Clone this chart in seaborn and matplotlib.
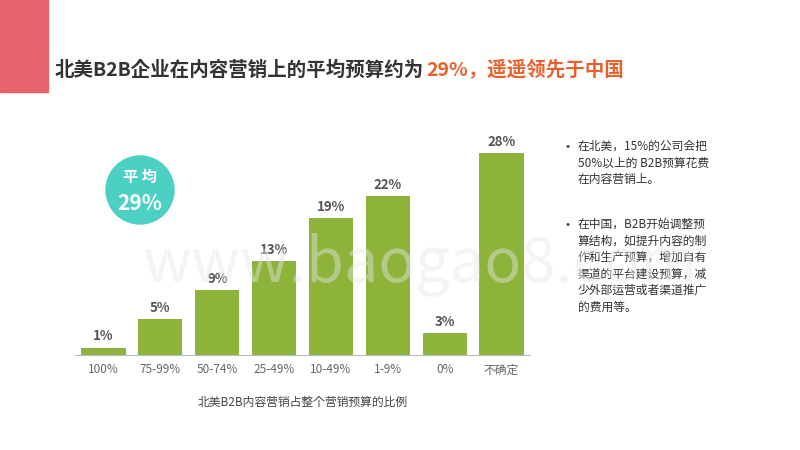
import matplotlib
matplotlib.use("Agg")
import matplotlib.pyplot as plt
from matplotlib import font_manager
import seaborn as sns
from matplotlib.patches import Rectangle, Ellipse

cjk = [f for f in font_manager.findSystemFonts() if "CJK" in f or "cjk" in f.lower()]
for f in cjk:
    try:
        font_manager.fontManager.addfont(f)
    except Exception:
        pass
names = {font_manager.FontProperties(fname=f).get_name() for f in cjk}
family = [n for n in ["Noto Sans CJK SC", "Noto Sans CJK JP"] if n in names] + sorted(names) + ["DejaVu Sans"]
plt.rcParams["font.family"] = family

categories = ["100%", "75-99%", "50-74%", "25-49%", "10-49%", "1-9%", "0%", "不确定"]
shares = [1, 5, 9, 13, 19, 22, 3, 28]

fig = plt.figure(figsize=(8, 4.5), dpi=100)
fig.patch.set_facecolor("white")

fig.patches.append(Rectangle((0, 1 - 92 / 450), 48 / 800, 92 / 450, transform=fig.transFigure,
                             color="#e8636b", zorder=0))
fig.text(55 / 800, 1 - 70 / 450, "北美B2B企业在内容营销上的平均预算约为", fontsize=14,
         fontweight="bold", color="#333333", va="center")
fig.text(426 / 800, 1 - 70 / 450, "29%，遥遥领先于中国", fontsize=14,
         fontweight="bold", color="#e8612c", va="center")

ax = fig.add_axes([75 / 800, 95 / 450, 455 / 800, 225 / 450])
sns.barplot(x=categories, y=shares, ax=ax, color="#8db33a", width=0.78, saturation=1)
ax.set_ylim(0, 31.2)
ax.set_yticks([])
for s in ["top", "right", "left"]:
    ax.spines[s].set_visible(False)
ax.spines["bottom"].set_color("#bbbbbb")
ax.tick_params(axis="x", length=0, labelsize=8.5, colors="#666666", pad=6)
for i, v in enumerate(shares):
    ax.text(i, v + 0.6, f"{v}%", ha="center", va="bottom", fontsize=9.5,
            fontweight="bold", color="#555555")
ax.set_xlabel("北美B2B内容营销占整个营销预算的比例", fontsize=8.5, color="#444444", labelpad=14)

fig.patches.append(Ellipse((140 / 800, 1 - 190 / 450), 68 / 800, 68 / 450, transform=fig.transFigure,
                           color="#4dd0c4", zorder=3))
fig.text(140 / 800, 1 - 177 / 450, "平 均", ha="center", va="center", fontsize=11,
         fontweight="bold", color="white", zorder=4)
fig.text(140 / 800, 1 - 203 / 450, "29%", ha="center", va="center", fontsize=15,
         fontweight="bold", color="white", zorder=4)

fig.text(420 / 800, 1 - 265 / 450, "www.baogao8.com", ha="center", va="center",
         fontsize=44, color="#e8e8e8", alpha=0.45, zorder=5)

notes = [
    (140, "在北美，15%的公司会把\n50%以上的 B2B预算花费\n在内容营销上。"),
    (218, "在中国，B2B开始调整预\n算结构，如提升内容的制\n作和生产预算，增加自有\n渠道的平台建设预算，减\n少外部运营或者渠道推广\n的费用等。"),
]
for y, t in notes:
    fig.text(565 / 800, 1 - y / 450, "•", fontsize=9, color="#334466", va="top")
    fig.text(578 / 800, 1 - y / 450, t, fontsize=8.5, color="#333333", va="top", linespacing=1.35)

fig.savefig("out.png", dpi=100)
